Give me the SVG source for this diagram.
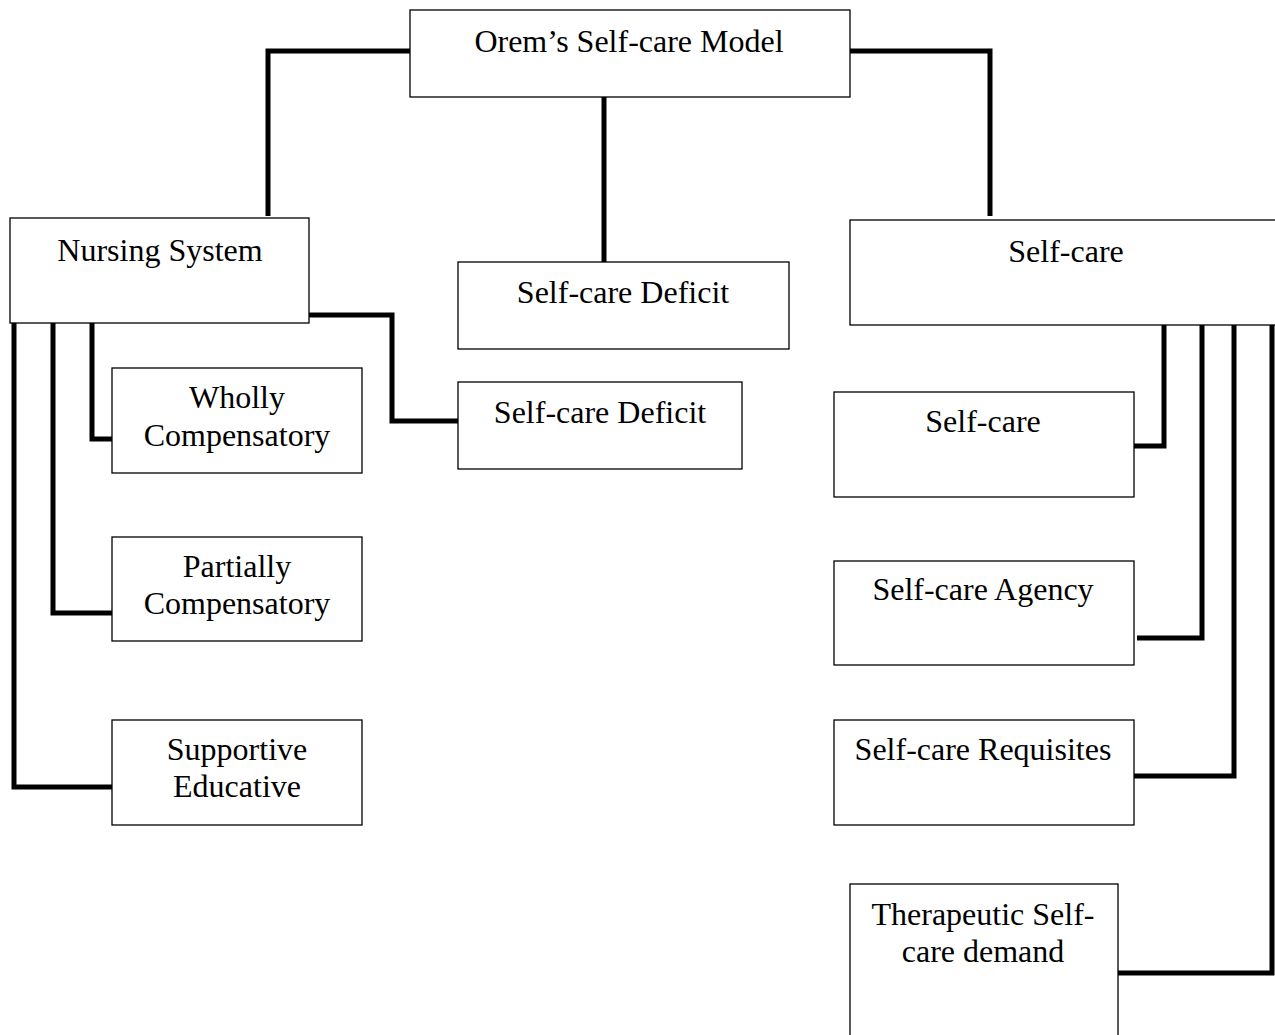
<svg xmlns="http://www.w3.org/2000/svg" width="1275" height="1035" viewBox="0 0 1275 1035">
<style>
.box{fill:#fff;stroke:#000;stroke-width:1.3}
.t{font-family:"Liberation Serif","Times New Roman",serif;font-size:32px;fill:#000;text-anchor:middle}
.c{fill:none;stroke:#000;stroke-width:5;stroke-linejoin:miter}
</style>
<rect width="1275" height="1035" fill="#fff"/>
<g id="connectors">
<polyline class="c" points="410,51 268,51 268,216"/>
<polyline class="c" points="604,97 604,262"/>
<polyline class="c" points="850,51 990,51 990,216"/>
<polyline class="c" points="309,315 392,315 392,421 458,421"/>
<polyline class="c" points="92,323 92,439 112,439"/>
<polyline class="c" points="53,323 53,613 112,613"/>
<polyline class="c" points="14,323 14,787 112,787"/>
<polyline class="c" points="1164,325 1164,446 1134,446"/>
<polyline class="c" points="1202,325 1202,638 1137,638"/>
<polyline class="c" points="1234,325 1234,776 1134,776"/>
<polyline class="c" points="1272,325 1272,973 1118,973"/>
</g>
<g id="orem"><rect class="box" x="410" y="10" width="440" height="87"/><text class="t" x="629" y="52">Orem’s Self-care Model</text></g>
<g id="nursing-system"><rect class="box" x="10" y="218" width="299" height="105"/><text class="t" x="160" y="261">Nursing System</text></g>
<g id="self-care-deficit-top"><rect class="box" x="458" y="262" width="331" height="87"/><text class="t" x="623" y="303">Self-care Deficit</text></g>
<g id="self-care-main"><rect class="box" x="850" y="220" width="440" height="105"/><text class="t" x="1066" y="262">Self-care</text></g>
<g id="self-care-deficit"><rect class="box" x="458" y="382" width="284" height="87"/><text class="t" x="600" y="423">Self-care Deficit</text></g>
<g id="wholly"><rect class="box" x="112" y="368" width="250" height="105"/><text class="t" x="237" y="408">Wholly</text><text class="t" x="237" y="446">Compensatory</text></g>
<g id="partially"><rect class="box" x="112" y="537" width="250" height="104"/><text class="t" x="237" y="577">Partially</text><text class="t" x="237" y="614">Compensatory</text></g>
<g id="supportive"><rect class="box" x="112" y="720" width="250" height="105"/><text class="t" x="237" y="760">Supportive</text><text class="t" x="237" y="797">Educative</text></g>
<g id="self-care"><rect class="box" x="834" y="392" width="300" height="105"/><text class="t" x="983" y="432">Self-care</text></g>
<g id="agency"><rect class="box" x="834" y="561" width="300" height="104"/><text class="t" x="983" y="600">Self-care Agency</text></g>
<g id="requisites"><rect class="box" x="834" y="720" width="300" height="105"/><text class="t" x="983" y="760">Self-care Requisites</text></g>
<g id="therapeutic"><rect class="box" x="850" y="884" width="268" height="170"/><text class="t" x="983" y="925">Therapeutic Self-</text><text class="t" x="983" y="962">care demand</text></g>
</svg>
